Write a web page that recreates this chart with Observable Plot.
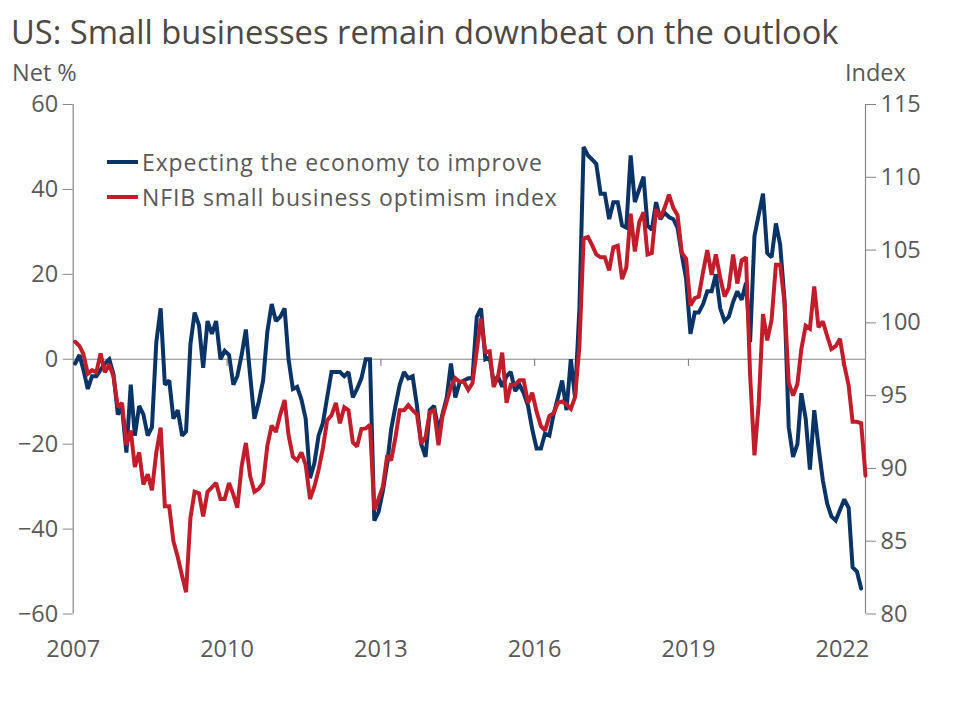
<!DOCTYPE html>
<html>
<head>
<meta charset="utf-8">
<script src="https://cdn.jsdelivr.net/npm/d3@7"></script>
<script src="https://cdn.jsdelivr.net/npm/@observablehq/plot@0.6"></script>
<style>
  body { margin: 0; background: #fff; font-family: "Open Sans", sans-serif; }
  #wrap { position: relative; width: 960px; height: 708px; overflow: hidden; }
  #head { position: relative; height: 90px; }
  #title { position: absolute; left: 11px; top: 16px; font-size: 32.7px; line-height: 1; color: #4d4846; white-space: nowrap; }
  #lleft { position: absolute; left: 12px; top: 61px; font-size: 23.5px; line-height: 1; color: #595959; }
  #lright { position: absolute; left: 845px; top: 61px; font-size: 23.5px; line-height: 1; color: #595959; }
  #legend { position: absolute; left: 107px; top: 144px; font-size: 23px; letter-spacing: 0.9px; color: #595959; }
  .row { display: flex; align-items: center; height: 35px; white-space: nowrap; }
  .sw { width: 31px; height: 4px; margin-right: 4px; }
</style>
</head>
<body>
<div id="wrap">
  <div id="head">
    <div id="title">US: Small businesses remain downbeat on the outlook</div>
    <div id="lleft">Net %</div>
    <div id="lright">Index</div>
  </div>
  <div id="chart"></div>
  <div id="legend"></div>
</div>
<script>
// Monthly data, Jan 2007 onward
const startYear = 2007;

// Net % expecting the economy to improve (Jan 2007 – May 2022)
const expectEconomy = [
  -1, 1, -2.5, -7, -4, -4, -2.5, -1, 0, -3.5, -13, -11.5,
  -22, -6, -18, -11, -13, -18, -16, 4, 12, -6, -5, -14,
  -12, -18, -17, 3.5, 11, 8, -2, 9, 6, 9, 0, 2,
  1, -6, -4, 1, 7, -4, -14, -10, -5, 6.5, 13, 9,
  10, 12, 0, -7, -6.5, -9.5, -14, -28, -24.5, -18, -15, -9,
  -3, -3, -3, -4, -3, -9, -7, -4.5, 0, 0, -38, -36,
  -31, -24.5, -16.5, -11, -6, -3, -4.5, -4, -11, -20, -23, -12,
  -11, -17, -13, -9, -1, -9, -5.5, -5, -4.5, -4.5, 10, 12,
  0, 0.5, -5.5, -4, -6.5, -4, -3, -7.5, -6, -8, -11, -16.5,
  -21, -21, -17.5, -18, -13, -9, -5, -12, 0, -9, 12, 50,
  48, 47, 46, 39, 39, 33, 37, 37, 31.5, 31, 48, 37,
  40, 43, 31.5, 30.5, 37, 33, 34.5, 33.5, 33, 31, 24.5, 19,
  6, 11, 11, 13, 16, 16, 20, 12, 9, 10, 13.5, 16,
  14, 18, 4, 29, 34, 39, 25, 24, 32, 27, 14, -16,
  -23, -20, -8, -14, -26, -12, -20.5, -28.5, -34, -37, -38, -35.5,
  -33, -35, -49, -50, -54
];

// NFIB small business optimism index (Jan 2007 – Jun 2022), right axis
const nfibIndex = [
  98.7, 98.4, 97.85, 96.5, 96.75, 96.6, 97.9, 96.6, 97.15, 96.3, 94.2, 94.5,
  91.6, 92.6, 90.1, 91.1, 88.9, 89.6, 88.5, 91.1, 92.8, 87.4, 87.4, 85.0,
  83.9, 82.6, 81.5, 86.6, 88.4, 88.3, 86.7, 88.4, 88.7, 89.0, 87.9, 87.9,
  89.0, 88.2, 87.3, 90.15, 91.75, 89.45, 88.4, 88.6, 89.0, 91.55, 92.95, 92.5,
  93.7, 94.7, 92.3, 90.8, 90.55, 91.1, 90.25, 87.9, 88.75, 89.9, 91.4, 93.3,
  93.65, 94.5, 93.1, 94.2, 94.0, 91.8, 91.5, 92.7, 92.75, 93.0, 87.15, 87.9,
  88.75, 90.9, 90.55, 92.15, 94.0, 94.0, 94.35, 94.0, 93.7, 91.7, 92.15, 93.85,
  94.0, 91.6, 93.55, 94.6, 95.6, 96.2, 95.95, 95.95, 95.4, 95.85, 98.1, 100.3,
  98.0, 98.05, 95.6, 96.3, 97.95, 94.5, 95.75, 95.75, 96.05, 96.05, 94.5, 95.2,
  93.9, 92.9, 92.6, 93.6, 93.8, 94.5, 94.6, 94.4, 94.1, 94.9, 98.4, 105.8,
  105.9, 105.3, 104.7, 104.5, 104.5, 103.6, 105.2, 105.3, 103.0, 103.8, 107.5, 104.9,
  106.9, 107.6, 104.7, 104.8, 107.8, 107.2, 107.9, 108.8, 107.9, 107.4, 104.8, 104.4,
  101.2, 101.7, 101.8, 103.5, 105.0, 103.3, 104.7, 103.1, 101.8, 102.4, 104.7, 102.7,
  104.3, 104.5, 96.4, 90.9, 94.4, 100.6, 98.8, 100.2, 104.0, 104.0, 101.4, 95.9,
  95.0, 95.8, 98.2, 99.8, 99.6, 102.5, 99.7, 100.1, 99.1, 98.2, 98.4, 98.9,
  97.1, 95.7, 93.2, 93.2, 93.1, 89.5
];

const leftTicks = [-60, -40, -20, 0, 20, 40, 60];
const rightTicks = [80, 85, 90, 95, 100, 105, 110, 115];
const yearTicks = [2007, 2010, 2013, 2016, 2019, 2022];
const seriesNames = ["Expecting the economy to improve", "NFIB small business optimism index"];
const seriesColors = ["#0a3366", "#c11d2b"];

// mapping between right (index) and left (net %) axes
const idxToNet = v => (v - 97.5) * 120 / 35;
const netToIdx = v => 97.5 + v * 35 / 120;
const monthDate = i => new Date(startYear, i, 15);

const expectData = expectEconomy.map((v, i) => ({date: monthDate(i), value: v}));
const nfibData = nfibIndex.map((v, i) => ({date: monthDate(i), value: idxToNet(v)}));
const xDomain = [new Date(2007, 0, 1), new Date(2022, 5, 15)];
const yearDates = yearTicks.map(y => new Date(y, 0, 1));
const axisGray = "#868686";

const chart = Plot.plot({
  width: 960,
  height: 618,
  marginLeft: 72.7,
  marginRight: 95,
  marginTop: 14,
  marginBottom: 94.5,
  style: {fontFamily: '"Open Sans", sans-serif', fontSize: "23.5px", color: "#595959", background: "white", overflow: "visible"},
  x: {type: "time", domain: xDomain},
  y: {domain: [-60, 60]},
  marks: [
    Plot.ruleY([0], {stroke: axisGray, strokeWidth: 1.2}),
    Plot.ruleX(yearDates.slice(1), {y1: 0, y2: -1.7, stroke: axisGray, strokeWidth: 1.2}),
    Plot.ruleX(xDomain, {y1: -60, y2: 60, stroke: axisGray, strokeWidth: 1.2}),
    Plot.axisY(leftTicks, {anchor: "left", tickSize: 10, tickPadding: 5, stroke: axisGray, label: null}),
    Plot.axisY(rightTicks.map(idxToNet), {anchor: "right", tickSize: 10, tickPadding: 5, stroke: axisGray,
      tickFormat: v => String(Math.round(netToIdx(v))), label: null}),
    Plot.axisX(yearDates, {anchor: "bottom", tickSize: 0, tickPadding: 26, tickFormat: d => String(d.getFullYear()), label: null}),
    Plot.line(expectData, {x: "date", y: "value", stroke: seriesColors[0], strokeWidth: 4, strokeLinejoin: "miter", strokeMiterlimit: 2}),
    Plot.line(nfibData, {x: "date", y: "value", stroke: seriesColors[1], strokeWidth: 4, strokeLinejoin: "miter", strokeMiterlimit: 2})
  ]
});
document.getElementById("chart").appendChild(chart);

const legend = document.getElementById("legend");
seriesNames.forEach((name, i) => {
  const row = document.createElement("div");
  row.className = "row";
  const sw = document.createElement("span");
  sw.className = "sw";
  sw.style.background = seriesColors[i];
  const tx = document.createElement("span");
  tx.textContent = name;
  row.appendChild(sw);
  row.appendChild(tx);
  legend.appendChild(row);
});
</script>
</body>
</html>
